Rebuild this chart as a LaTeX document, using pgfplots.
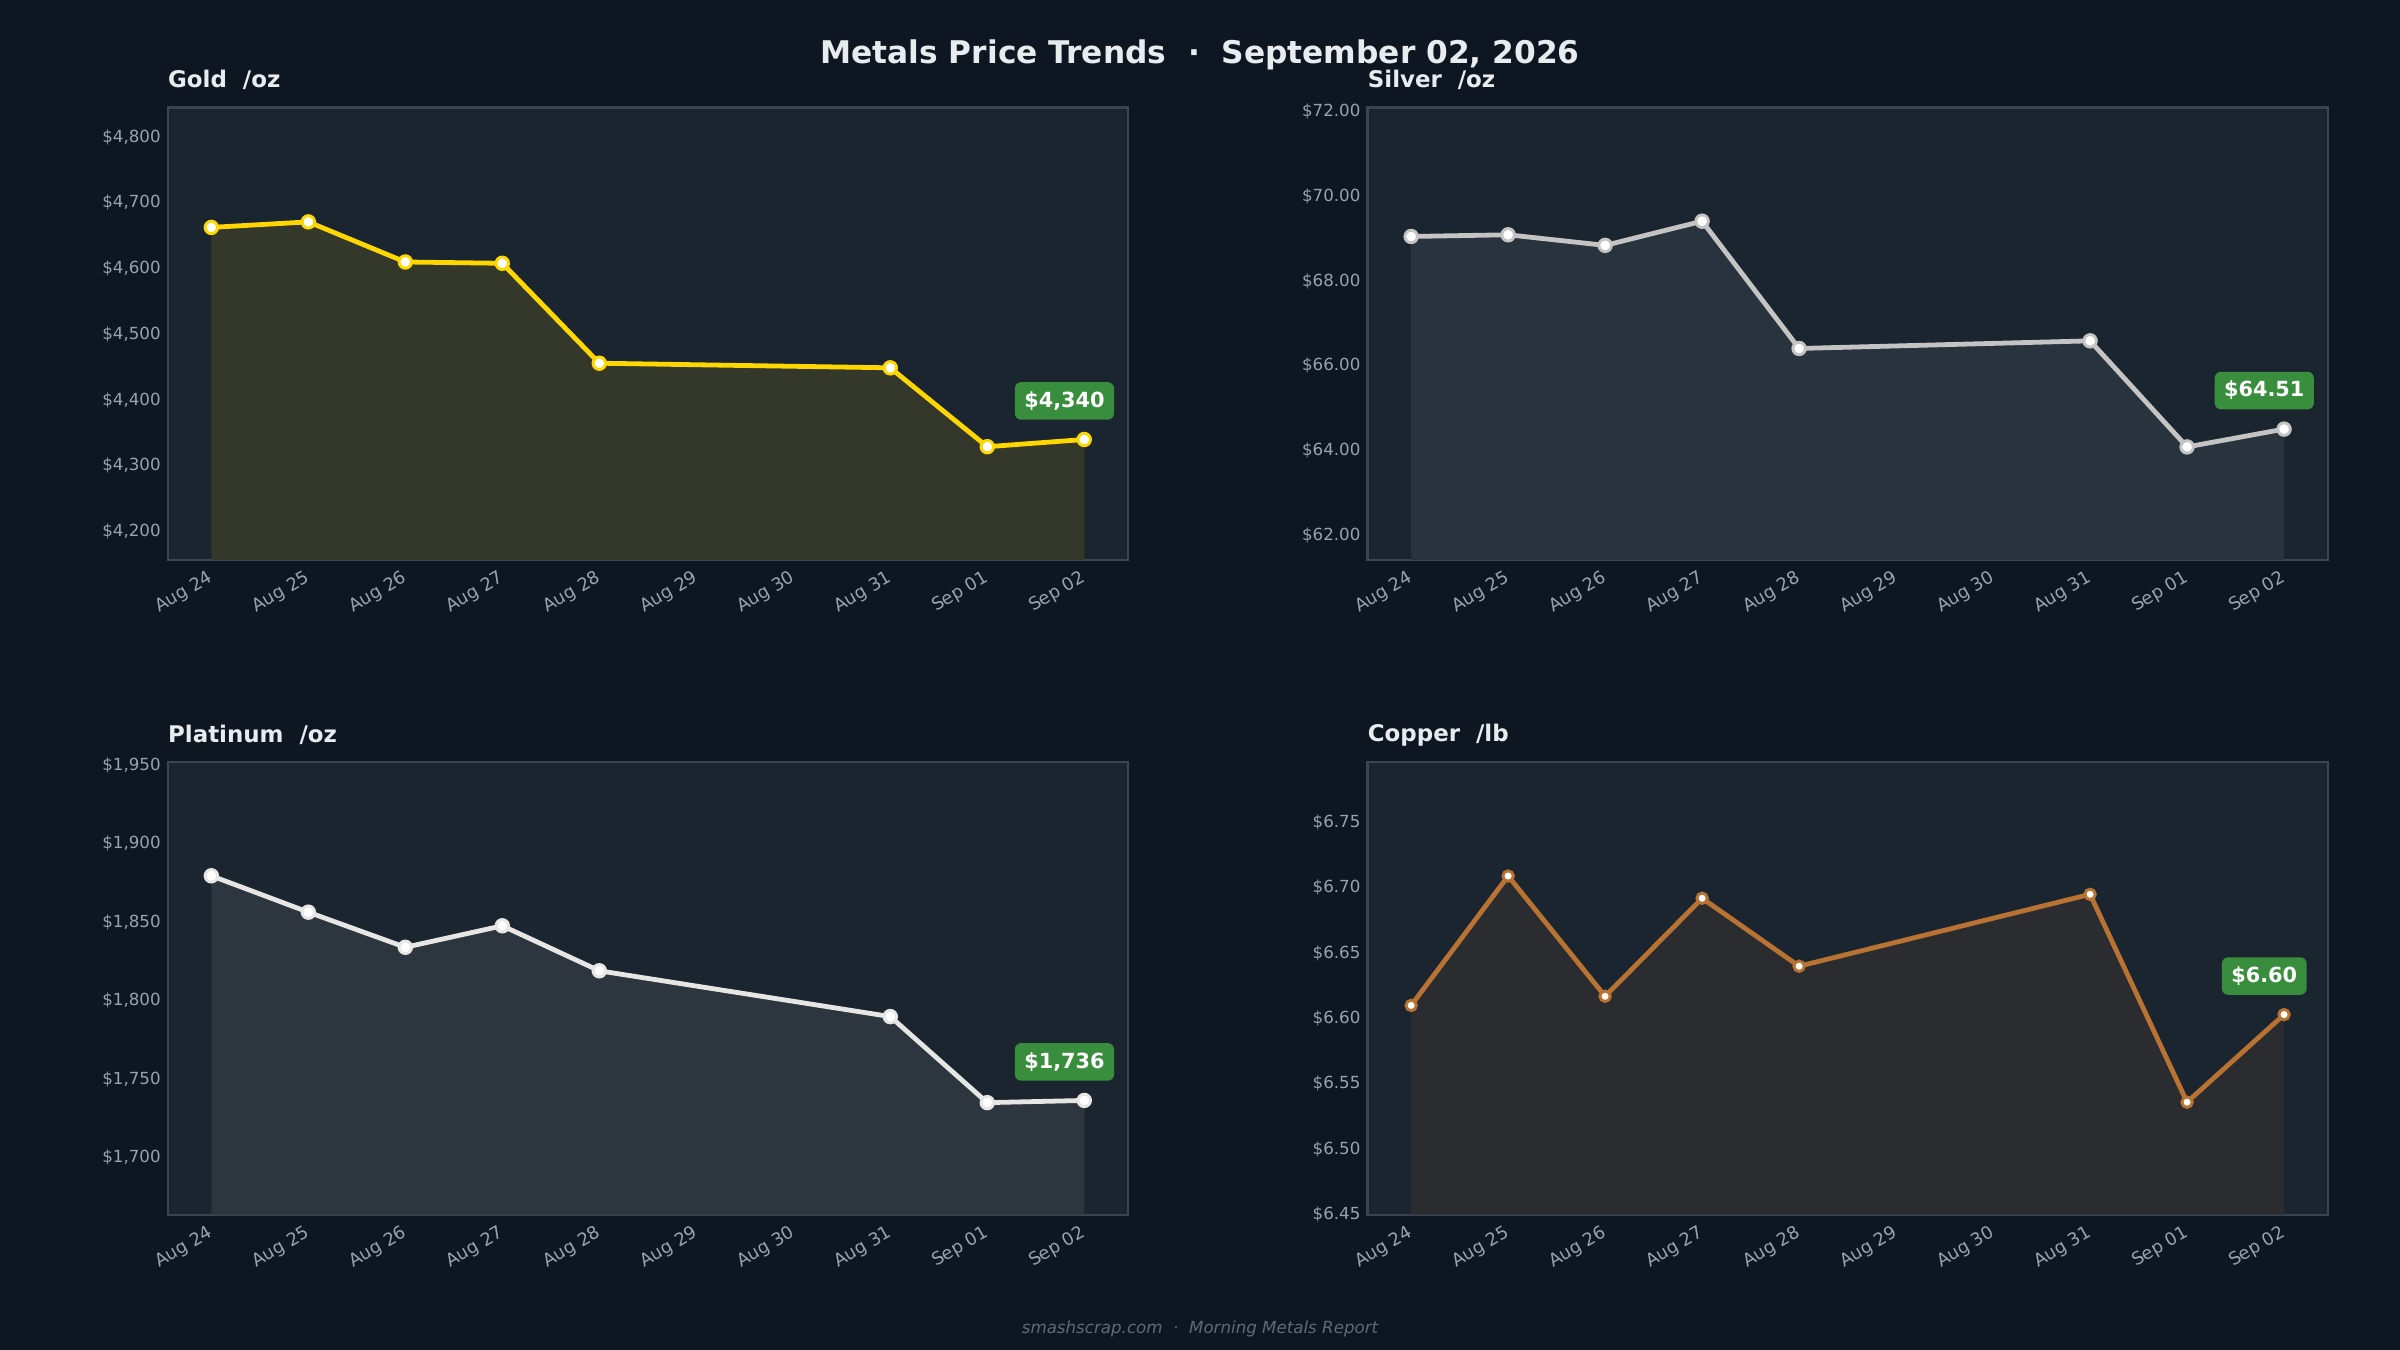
\documentclass[border=0pt]{standalone}
\usepackage{fontspec}
\setmainfont{DejaVu Sans}
\usepackage{pgfplots}
\pgfplotsset{compat=1.18}

\definecolor{bg}{HTML}{0E1621}
\definecolor{face}{HTML}{1B2530}
\definecolor{spine}{HTML}{3A4550}
\definecolor{ticktxt}{HTML}{9AA3AD}
\definecolor{titletxt}{HTML}{E8ECEF}
\definecolor{foot}{HTML}{5F6A75}
\definecolor{tagfill}{HTML}{388E3C}
\definecolor{goldline}{HTML}{FFD700}
\definecolor{goldfill}{HTML}{33382A}
\definecolor{silverline}{HTML}{C4C4C4}
\definecolor{silverfill}{HTML}{29333D}
\definecolor{platline}{HTML}{E6E6E4}
\definecolor{platfill}{HTML}{2D363F}
\definecolor{copperline}{HTML}{B87333}
\definecolor{copperfill}{HTML}{2B2C30}

% days from Aug 24; no data on Aug 29/30
\pgfplotstableread{
x gold silver plat copper
0 4662.6 69.05 1879.6 6.610
1 4671.0 69.09 1856.4 6.709
2 4610.0 68.84 1834.0 6.617
3 4608.0 69.41 1847.7 6.692
4 4456.0 66.41 1819.0 6.640
7 4449.0 66.59 1789.8 6.695
8 4329.0 64.09 1734.9 6.536
9 4340.0 64.51 1736.3 6.603
}\metals

\pgfplotsset{
  metal/.style={
    scale only axis, width=460.9pt, height=217.1pt, anchor=south west,
    axis background/.style={fill=face},
    axis line style={spine, line width=1pt},
    xmin=-0.45, xmax=9.45,
    xtick={0,...,9},
    xticklabels={Aug 24,Aug 25,Aug 26,Aug 27,Aug 28,Aug 29,Aug 30,Aug 31,Sep 01,Sep 02},
    major tick length=0pt,
    ticklabel style={font=\fontsize{8}{9}\selectfont, text=ticktxt},
    xticklabel style={xshift=-2pt, yshift=-4.5pt, rotate=30, anchor=north east, inner sep=0pt,
      font=\fontsize{8.5}{9}\selectfont},
    yticklabel style={anchor=east, inner sep=0pt, xshift=-3.2pt},
    /pgf/number format/assume math mode=true,
  },
  fillarea/.style={draw=none, fill=#1, forget plot},
  priceline/.style={color=#1, line width=2.3pt, mark=*, mark size=3pt,
    mark options={fill=white, draw=#1, line width=1.4pt}},
}
\tikzset{
  pricetag/.style={fill=tagfill, text=white, rounded corners=3pt,
    font=\bfseries\fontsize{10}{12}\selectfont, inner xsep=4.5pt, inner ysep=0pt,
    minimum height=18pt, xshift=-9.5pt, yshift=18.5pt},
  paneltitle/.style={anchor=west, inner sep=0pt, text=titletxt,
    font=\bfseries\fontsize{11}{13}\selectfont},
}

\begin{document}
\begin{tikzpicture}
\path[use as bounding box, fill=bg] (0,0) rectangle (1152pt,648pt);

\node[font=\bfseries\fontsize{15}{18}\selectfont, text=titletxt] at (576pt,621.6pt)
  {Metals Price Trends\ \ ·\ \ September 02, 2026};

% Gold
\begin{axis}[metal, at={(80.5pt,379.3pt)}, ymin=4157, ymax=4845,
  ytick={4200,4300,4400,4500,4600,4700,4800},
  yticklabels={{\$4,200},{\$4,300},{\$4,400},{\$4,500},{\$4,600},{\$4,700},{\$4,800}}]
  \addplot[fillarea=goldfill] table[x=x, y=gold] {\metals} \closedcycle;
  \addplot[priceline=goldline] table[x=x, y=gold] {\metals};
  \node[pricetag] at (axis cs:9,4340) {\$4,340};
\end{axis}
\node[paneltitle] at (80.5pt,609.8pt) {Gold\ \ /oz};

% Silver
\begin{axis}[metal, at={(656.4pt,379.3pt)}, ymin=61.43, ymax=72.09,
  ytick={62,64,66,68,70,72},
  yticklabels={{\$62.00},{\$64.00},{\$66.00},{\$68.00},{\$70.00},{\$72.00}}]
  \addplot[fillarea=silverfill] table[x=x, y=silver] {\metals} \closedcycle;
  \addplot[priceline=silverline] table[x=x, y=silver] {\metals};
  \node[pricetag] at (axis cs:9,64.51) {\$64.51};
\end{axis}
\node[paneltitle] at (656.4pt,609.8pt) {Silver\ \ /oz};

% Platinum
\begin{axis}[metal, at={(80.5pt,65pt)}, ymin=1663.5, ymax=1952,
  ytick={1700,1750,1800,1850,1900,1950},
  yticklabels={{\$1,700},{\$1,750},{\$1,800},{\$1,850},{\$1,900},{\$1,950}}]
  \addplot[fillarea=platfill] table[x=x, y=plat] {\metals} \closedcycle;
  \addplot[priceline=platline] table[x=x, y=plat] {\metals};
  \node[pricetag] at (axis cs:9,1736.3) {\$1,736};
\end{axis}
\node[paneltitle] at (80.5pt,295.3pt) {Platinum\ \ /oz};

% Copper
\begin{axis}[metal, at={(656.4pt,65pt)}, ymin=6.45, ymax=6.796,
  ytick={6.45,6.50,6.55,6.60,6.65,6.70,6.75},
  yticklabels={{\$6.45},{\$6.50},{\$6.55},{\$6.60},{\$6.65},{\$6.70},{\$6.75}}]
  \addplot[fillarea=copperfill] table[x=x, y=copper] {\metals} \closedcycle;
  \addplot[priceline=copperline, mark size=2.5pt] table[x=x, y=copper] {\metals};
  \node[pricetag] at (axis cs:9,6.603) {\$6.60};
\end{axis}
\node[paneltitle] at (656.4pt,295.3pt) {Copper\ \ /lb};

\node[font=\itshape\fontsize{8}{10}\selectfont, text=foot] at (576pt,10.3pt)
  {smashscrap.com\ \ ·\ \ Morning Metals Report};
\end{tikzpicture}
\end{document}
